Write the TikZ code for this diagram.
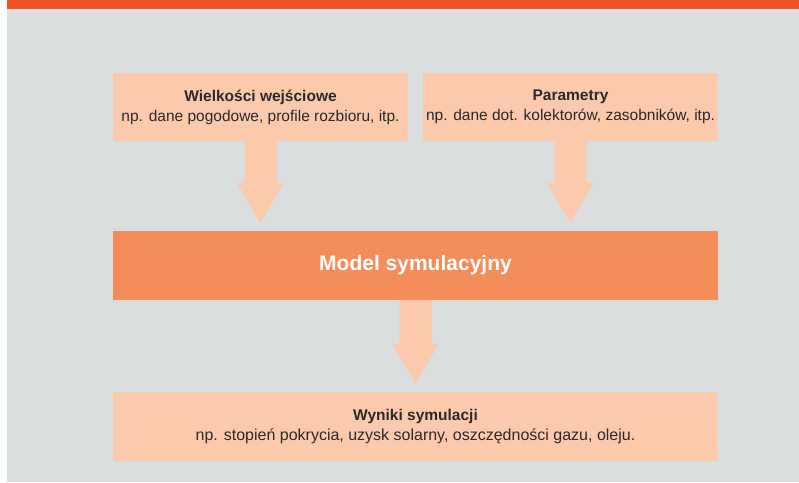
\documentclass[tikz,border=0pt]{standalone}
\usepackage{fontspec}
\setmainfont{Liberation Sans}
\usetikzlibrary{calc}
\definecolor{bgray}{HTML}{DADEDF}
\definecolor{topbar}{HTML}{F15424}
\definecolor{peach}{HTML}{FBCAAC}
\definecolor{modelor}{HTML}{F58D5A}
\definecolor{txt}{HTML}{2A2A2A}
\tikzset{
  box/.style={fill=peach, draw=none, minimum width=295pt, minimum height=68pt, inner sep=0pt, align=center, text=txt, font=\fontsize{15.5}{20}\selectfont},
  modelbox/.style={fill=modelor, draw=none, minimum width=605pt, minimum height=69pt, inner sep=0pt, text=white, font=\fontsize{21}{25}\selectfont\bfseries},
  fatarr/.style={fill=peach, draw=none}
}
\newcommand\fatarrow[2]{%
  \fill[fatarr] ($(#1.south)+(-16,0)$) -- ($(#1.south |- #2.north)+(-16,-48)$)
    -- ($(#1.south |- #2.north)+(-23.5,-48)$) -- ($(#1.south |- #2.north)+(0,-8)$)
    -- ($(#1.south |- #2.north)+(23.5,-48)$) -- ($(#1.south |- #2.north)+(16,-48)$)
    -- ($(#1.south)+(16,0)$) -- cycle;}
\begin{document}
\begin{tikzpicture}[x=1pt,y=-1pt]
\useasboundingbox (0,0) rectangle (799,482);
\fill[bgray] (7,9) rectangle (799,482);
\fill[topbar] (7,0) rectangle (799,9);
\node[box] (in) at (260.5,107) {{\bfseries Wielkości wejściowe}\\
  np. dane pogodowe, profile rozbioru, itp.};
\node[box] (par) at (570.5,107) {{\bfseries Parametry}\\
  np. dane dot. kolektorów, zasobników, itp.};
\node[modelbox] (model) at (415.5,265.5) {Model symulacyjny};
\node[box, minimum width=605pt, minimum height=69pt] (res) at (415.5,426.5) {{\bfseries Wyniki symulacji}\\
  {\fontsize{16}{20}\selectfont np. stopień pokrycia, uzysk solarny, oszczędności gazu, oleju.}};
\fatarrow{in}{model}
\fatarrow{par}{model}
\fatarrow{model}{res}
\end{tikzpicture}
\end{document}
